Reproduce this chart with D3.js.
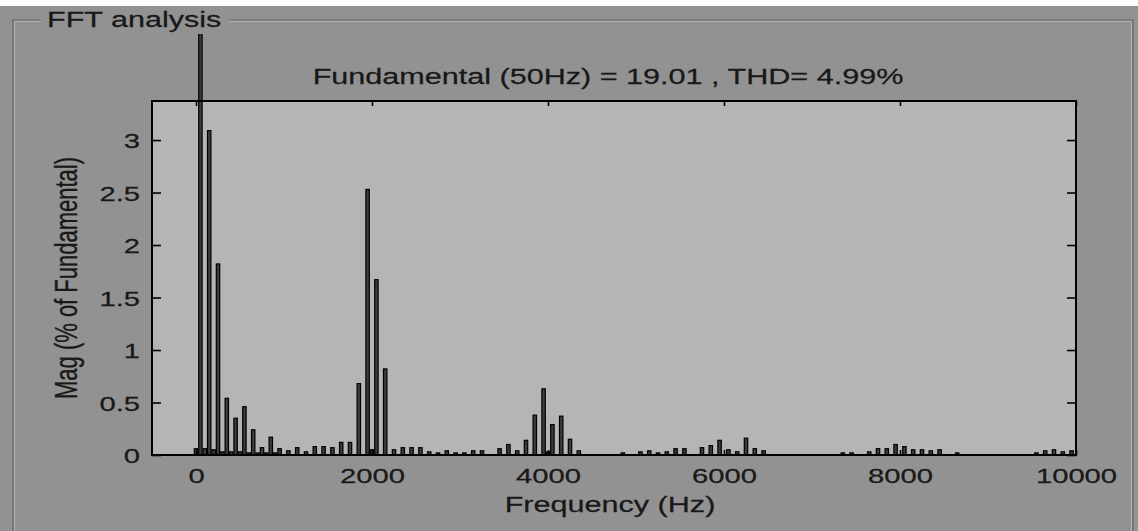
<!DOCTYPE html>
<html>
<head>
<meta charset="utf-8">
<script src="https://cdn.jsdelivr.net/npm/d3@7"></script>
<style>
  html, body { margin: 0; padding: 0; background: #ffffff; }
  svg { display: block; }
  text { font-family: "Liberation Sans", Arial, sans-serif; fill: #181818; stroke: #181818; stroke-width: 0.25px; }
</style>
</head>
<body>
<svg id="chart" width="1138" height="531"></svg>
<script>
// ---- data ----
const panelTitle = "FFT analysis";
const chartTitle = "Fundamental (50Hz) = 19.01 , THD= 4.99%";
const xLabel = "Frequency (Hz)";
const yLabel = "Mag (% of Fundamental)";
const xTicks = [0, 2000, 4000, 6000, 8000, 10000];
const yTicks = [0, 0.5, 1, 1.5, 2, 2.5, 3];
const fundamentalFreq = 50;
const fundamentalMag = 100;
const freqs = [0, 100, 150, 200, 250, 300, 350, 400, 450, 500, 550, 600, 650, 700, 750, 800, 850, 900, 950,
  1050, 1150, 1250, 1350, 1450, 1550, 1650, 1750, 1850, 1950, 2000, 2050, 2150, 2250, 2350, 2450, 2550,
  2650, 2750, 2850, 2950, 3050, 3150, 3250, 3450, 3550, 3650, 3750, 3850, 3950, 4000, 4050, 4150, 4250,
  4350, 4850, 5050, 5150, 5250, 5350, 5450, 5550, 5750, 5850, 5950, 6050, 6150, 6250, 6350, 6450,
  7350, 7450, 7650, 7750, 7850, 7950, 8050, 8150, 8250, 8350, 8450, 8650, 9550, 9650, 9750, 9850, 9950];
const mags = [0.06, 0.06, 3.09, 0.05, 1.82, 0.03, 0.54, 0.03, 0.35, 0.03, 0.46, 0.02, 0.24, 0.02, 0.07, 0.02, 0.17, 0.02, 0.06,
  0.04, 0.07, 0.03, 0.08, 0.08, 0.07, 0.12, 0.12, 0.68, 2.53, 0.05, 1.67, 0.82, 0.05, 0.07, 0.07, 0.07,
  0.03, 0.02, 0.04, 0.02, 0.02, 0.04, 0.04, 0.06, 0.10, 0.04, 0.14, 0.38, 0.63, 0.03, 0.29, 0.37, 0.15,
  0.04, 0.02, 0.03, 0.04, 0.02, 0.03, 0.06, 0.06, 0.07, 0.09, 0.14, 0.05, 0.03, 0.16, 0.06, 0.04,
  0.02, 0.02, 0.03, 0.06, 0.06, 0.10, 0.08, 0.05, 0.05, 0.04, 0.05, 0.02, 0.02, 0.04, 0.05, 0.03, 0.04];

// ---- layout ----
const W = 1138, H = 531;
const plot = { left: 152, right: 1076, top: 101, bottom: 455 };
const SX = 1.39; // horizontal stretch of the reference's text

const svg = d3.select("#chart");

// background
svg.append("rect").attr("x", 0).attr("y", 0).attr("width", W).attr("height", H).attr("fill", "#ffffff");
svg.append("rect").attr("x", 0).attr("y", 6).attr("width", W).attr("height", H - 6).attr("fill", "#929292");

// group box frame
const frame = svg.append("g");
const fy = 20, fl = 13, fr = 1133;
frame.append("path").attr("d", `M${fl},${H} V${fy} H41 M229,${fy} H${fr} V${H}`)
  .attr("fill", "none").attr("stroke", "#666666").attr("stroke-width", 1.2);
frame.append("path").attr("d", `M${fl + 1.5},${H} V${fy + 1.5} H41 M229,${fy + 1.5} H${fr - 1.5} V${H}`)
  .attr("fill", "none").attr("stroke", "#b4b4b4").attr("stroke-width", 1);
frame.append("g").attr("transform", `translate(47,27) scale(${SX},1)`)
  .append("text").attr("font-size", 22).attr("x", 0).attr("y", 0).text(panelTitle);

// scales
const x = d3.scaleLinear().domain([-500, 10000]).range([plot.left, plot.right]);
const y = d3.scaleLinear().domain([0, 3.372]).range([plot.bottom, plot.top]);

// plot background
svg.append("rect").attr("x", plot.left).attr("y", plot.top)
  .attr("width", plot.right - plot.left).attr("height", plot.bottom - plot.top).attr("fill", "#b5b5b5");

// clip for bars (fundamental runs above the axes up to y=34)
svg.append("clipPath").attr("id", "barclip").append("rect")
  .attr("x", plot.left).attr("y", 34).attr("width", plot.right - plot.left).attr("height", plot.bottom - 34);

const bars = freqs.map((f, i) => ({ f, m: mags[i] }));
bars.push({ f: fundamentalFreq, m: fundamentalMag });
const bw = 3.4;
svg.append("g").attr("clip-path", "url(#barclip)")
  .selectAll("rect").data(bars).join("rect")
  .attr("x", d => x(d.f) - bw / 2)
  .attr("y", d => y(d.m))
  .attr("width", bw)
  .attr("height", d => Math.max(0, y(0) - y(d.m)))
  .attr("fill", "#3c3c3c")
  .attr("stroke", "#000000")
  .attr("stroke-width", 1.2);

// axes (ticks inward, box on)
const fmt = d => String(d);
const gB = svg.append("g").attr("transform", `translate(0,${plot.bottom})`)
  .call(d3.axisBottom(x).tickValues(xTicks).tickSize(-5).tickPadding(0).tickFormat(fmt));
const gT = svg.append("g").attr("transform", `translate(0,${plot.top})`)
  .call(d3.axisTop(x).tickValues(xTicks).tickSize(-5).tickFormat(""));
const gL = svg.append("g").attr("transform", `translate(${plot.left},0)`)
  .call(d3.axisLeft(y).tickValues(yTicks).tickSize(-9).tickPadding(0).tickFormat(fmt));
const gR = svg.append("g").attr("transform", `translate(${plot.right},0)`)
  .call(d3.axisRight(y).tickValues(yTicks).tickSize(-9).tickFormat(""));

[gB, gT, gL, gR].forEach(g => {
  g.select(".domain").remove();
  g.selectAll(".tick line").attr("stroke", "#000").attr("stroke-width", 1.6);
});
gB.selectAll(".tick text").attr("fill", "#181818").attr("font-size", 21)
  .attr("font-family", "Liberation Sans, Arial, sans-serif")
  .attr("y", 0).attr("dy", null)
  .attr("transform", `translate(0,28) scale(${SX},1)`);
gL.selectAll(".tick text").attr("fill", "#181818").attr("font-size", 21)
  .attr("font-family", "Liberation Sans, Arial, sans-serif")
  .attr("x", 0).attr("dy", "0.36em").attr("text-anchor", "end")
  .attr("transform", `translate(-12,0) scale(${SX},1)`);

// axes box
svg.append("rect").attr("x", plot.left).attr("y", plot.top)
  .attr("width", plot.right - plot.left).attr("height", plot.bottom - plot.top)
  .attr("fill", "none").attr("stroke", "#000").attr("stroke-width", 2);

// titles
svg.append("g").attr("transform", `translate(${(plot.left + plot.right) / 2 - 6},84) scale(${SX},1)`)
  .append("text").attr("text-anchor", "middle").attr("font-size", 22).text(chartTitle);
svg.append("g").attr("transform", `translate(${(plot.left + plot.right) / 2 - 4},512) scale(${SX},1)`)
  .append("text").attr("text-anchor", "middle").attr("font-size", 22).text(xLabel);
svg.append("g").attr("transform", `translate(77,${(plot.top + plot.bottom) / 2}) scale(${SX},1) rotate(-90)`)
  .append("text").attr("text-anchor", "middle").attr("font-size", 22).text(yLabel);
</script>
</body>
</html>
